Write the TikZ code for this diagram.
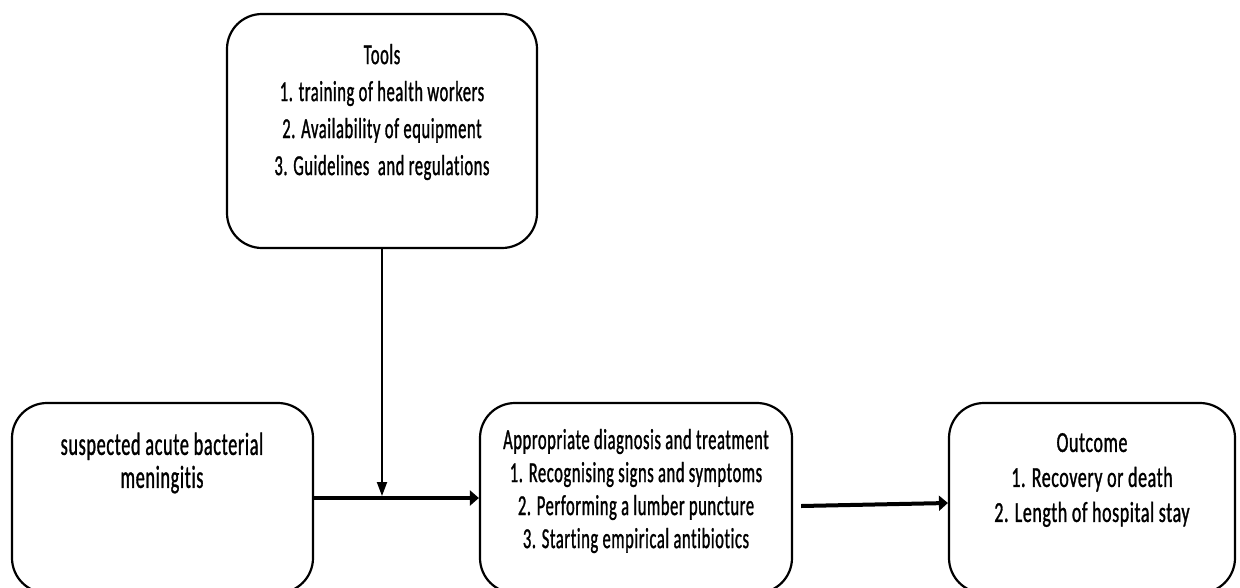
\documentclass[tikz,border=0pt]{standalone}
\usepackage{fontspec}
\setmainfont{Carlito}[Ligatures=NoCommon]
\newfontfamily\fontA{Carlito}[FakeStretch=0.57,FakeBold=1,LetterSpace=2,Ligatures=NoCommon]
\newfontfamily\fontB{Carlito}[FakeStretch=0.62,FakeBold=1,LetterSpace=2,Ligatures=NoCommon]
\usetikzlibrary{arrows.meta}
\tikzset{
  box/.style={draw=black, line width=2.2pt, rounded corners=35pt, inner sep=0pt},
  txt/.style={align=center, inner sep=0pt, text=black},
  thickarrow/.style={line width=4pt, -{Triangle[length=9pt,width=15pt]}},
  thinarrow/.style={line width=2pt, -{Triangle[length=14pt,width=10pt]}},
}
\begin{document}
\begin{tikzpicture}[x=1pt,y=-1pt]
\useasboundingbox (0,0) rectangle (1240,587);
\clip (0,0) rectangle (1240,587);
\fill[white] (0,0) rectangle (1240,587);
% boxes
\node[box, minimum width=310pt, minimum height=234pt] (tools) at (382,131) {};
\node[box, minimum width=301pt, minimum height=190pt] (left) at (162.5,498) {};
\node[box, minimum width=312pt, minimum height=190pt] (mid) at (636,498) {};
\node[box, minimum width=286pt, minimum height=190pt] (right) at (1092,498) {};
% texts
\node[txt, font=\fontA\fontsize{29}{37}\selectfont] (toolstxt) at (382,112) {Tools\\1. training of health workers\\2. Availability of equipment\\3. Guidelines\ \ and regulations};
\node[txt, font=\fontA\fontsize{32}{33}\selectfont] (lefttxt) at (162,463) {suspected acute bacterial\\meningitis};
\node[txt, font=\fontA\fontsize{29}{33}\selectfont] (midtxt) at (636,491) {Appropriate diagnosis and treatment\\1. Recognising signs and symptoms\\2. Performing a lumber puncture\\3. Starting empirical antibiotics};
\node[txt, font=\fontB\fontsize{29}{35}\selectfont] (righttxt) at (1092,480) {Outcome\\1. Recovery or death\\2. Length of hospital stay};
% connectors
\draw[thickarrow] (left.east) -- (mid.west);
\draw[thinarrow, shorten >=2pt] (tools.south) -- (tools.south |- left.east);
\draw[thickarrow] ([xshift=8pt,yshift=-8pt]mid.east) -- ([yshift=-5pt]right.west);
\end{tikzpicture}
\end{document}
